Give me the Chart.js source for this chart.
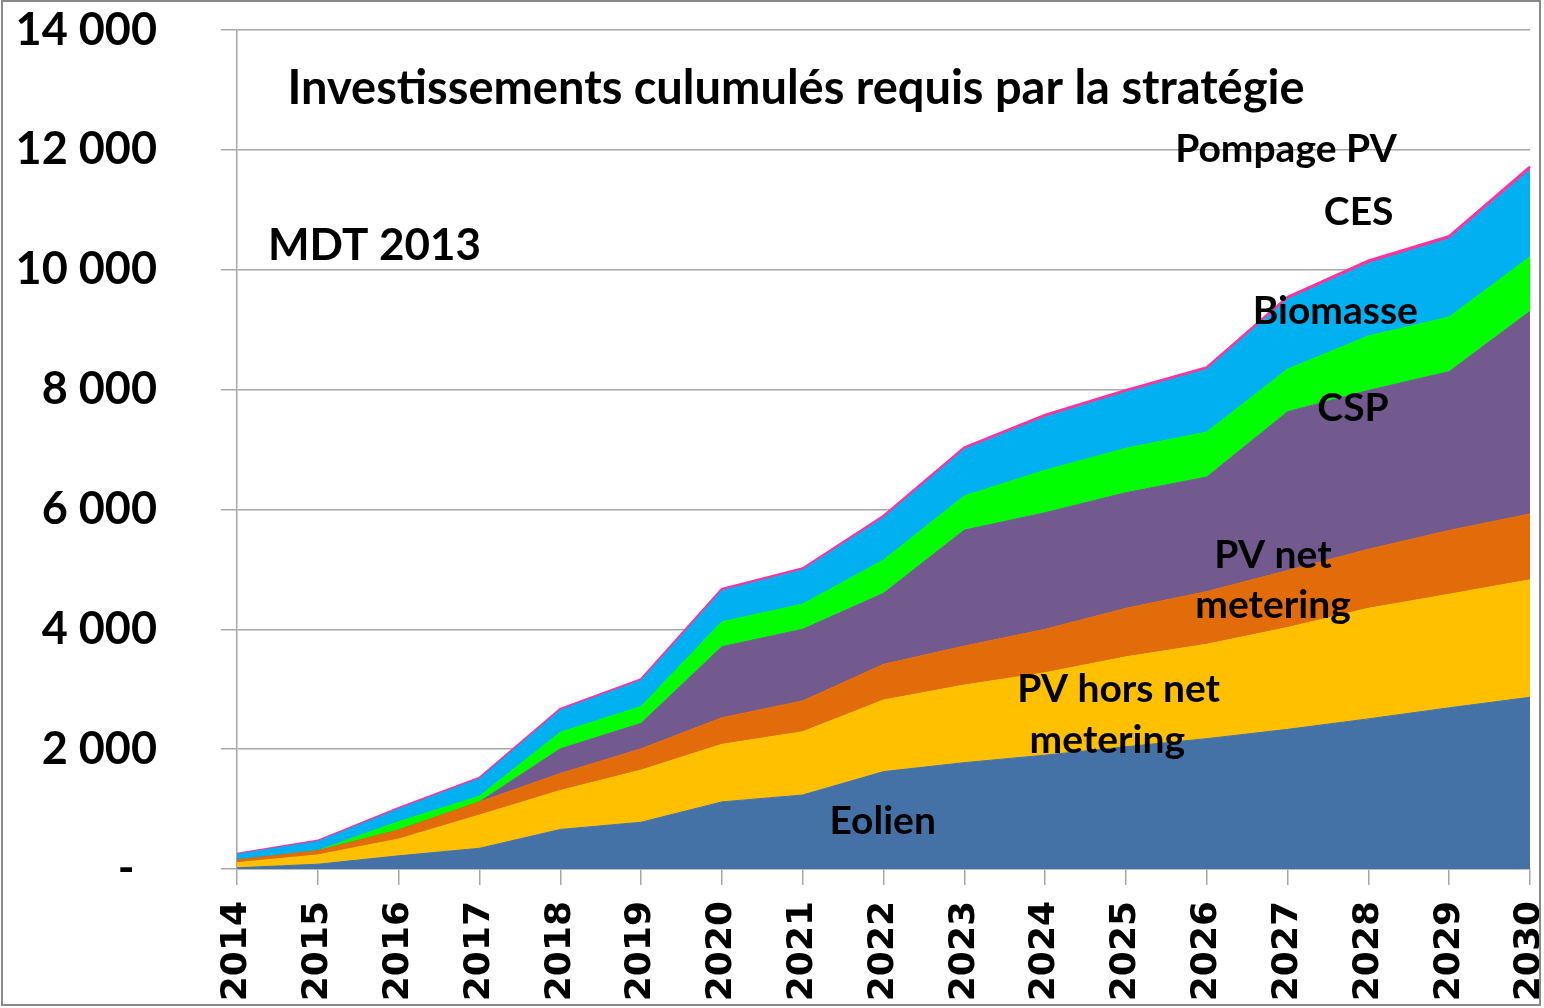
<!DOCTYPE html>
<html>
<head>
<meta charset="utf-8">
<script src="https://cdn.jsdelivr.net/npm/chart.js@4.4.1/dist/chart.umd.min.js"></script>
<style>
  html, body { margin: 0; padding: 0; background: #fff; }
  #wrap { width: 1544px; height: 1008px; position: relative; }
</style>
</head>
<body>
<div id="wrap"><canvas id="chart" width="1544" height="1008"></canvas></div>
<script>
// --- données (MDT 2013, investissements cumulés par filière) ---
const YEARS = ['2014', '2015', '2016', '2017', '2018', '2019', '2020', '2021', '2022',
               '2023', '2024', '2025', '2026', '2027', '2028', '2029', '2030'];

const EOLIEN      = [20, 80, 220, 345, 660, 780, 1120, 1235, 1625, 1775, 1900, 2040, 2175, 2330, 2505, 2690, 2865];
const PV_HORS_NM  = [85, 155, 280, 555, 650, 870, 960, 1055, 1195, 1295, 1375, 1500, 1575, 1700, 1845, 1895, 1960];
const PV_NM       = [45, 70, 150, 220, 285, 355, 445, 515, 595, 650, 725, 810, 880, 950, 985, 1065, 1100];
const CSP         = [0, 0, 0, 0, 410, 425, 1185, 1195, 1185, 1935, 1945, 1930, 1910, 2650, 2650, 2650, 3380];
const BIOMASSE    = [0, 5, 140, 95, 275, 280, 415, 420, 555, 570, 710, 740, 750, 710, 910, 910, 910];
const CES         = [95, 150, 210, 290, 370, 435, 520, 570, 705, 775, 885, 935, 1045, 1165, 1210, 1305, 1450];
const POMPAGE_PV  = [5, 10, 15, 15, 20, 20, 25, 25, 30, 30, 35, 35, 35, 40, 45, 45, 55];

const Y_TICKS = [0, 2000, 4000, 6000, 8000, 10000, 12000, 14000];

const TITLE = 'Investissements culumulés requis par la stratégie';
const SUBTITLE = 'MDT 2013';

// étiquettes des filières, placées en coordonnées (indice d'année, valeur)
const SERIES_LABELS = [
  { text: 'Pompage PV',  x: 12.98, y: 12000 },
  { text: 'CES',         x: 13.88, y: 10950 },
  { text: 'Biomasse',    x: 13.59, y: 9300 },
  { text: 'CSP',         x: 13.81, y: 7690 },
  { text: 'PV net',      x: 12.82, y: 5240 },
  { text: 'metering',    x: 12.82, y: 4400 },
  { text: 'PV hors net', x: 10.91, y: 2990 },
  { text: 'metering',    x: 10.77, y: 2150 },
  { text: 'Eolien',      x: 7.99,  y: 790 },
];

const SERIES = [
  { label: 'Eolien',             data: EOLIEN,     color: '#4472A7' },
  { label: 'PV hors net metering', data: PV_HORS_NM, color: '#FFC000' },
  { label: 'PV net metering',    data: PV_NM,      color: '#E36C0A' },
  { label: 'CSP',                data: CSP,        color: '#725A8F' },
  { label: 'Biomasse',           data: BIOMASSE,   color: '#00FF00' },
  { label: 'CES',                data: CES,        color: '#00B0F0' },
  { label: 'Pompage PV',         data: POMPAGE_PV, color: '#FF3399' },
];

const GRID = '#a8a8a8';

function fmtThousands(v) {
  if (v === 0) return '-\u2002';
  return String(v).replace(/\B(?=(\d{3})+(?!\d))/g, ' ');
}

const datasets = SERIES.map((s, i) => ({
  label: s.label,
  data: s.data,
  backgroundColor: s.color,
  borderColor: s.color,
  borderWidth: i === SERIES.length - 1 ? 2.5 : 1,
  fill: i === 0 ? 'origin' : '-1',
  pointRadius: 0,
  tension: 0,
}));

const annotations = {
  id: 'annotations',
  afterDraw(chart) {
    const { ctx, scales } = chart;
    ctx.save();
    ctx.fillStyle = '#000';
    ctx.textBaseline = 'middle';

    ctx.font = 'bold 47px Lato';
    ctx.textAlign = 'center';
    ctx.fillText(TITLE, 796, 89);

    ctx.textAlign = 'left';
    ctx.font = 'bold 44px Lato';
    ctx.fillText(SUBTITLE, 268, 246);

    ctx.textAlign = 'center';
    ctx.font = 'bold 39px Lato';
    SERIES_LABELS.forEach(l => {
      ctx.fillText(l.text, scales.x.getPixelForValue(l.x), scales.y.getPixelForValue(l.y));
    });

    // cadre extérieur
    ctx.fillStyle = '#fff';
    ctx.fillRect(1541, 0, 3, 1008);
    ctx.strokeStyle = '#8a8a8a';
    ctx.lineWidth = 2;
    ctx.strokeRect(2, 1, 1538, 1004);
    ctx.restore();
  }
};

new Chart(document.getElementById('chart'), {
  type: 'line',
  data: { labels: YEARS, datasets },
  plugins: [annotations],
  options: {
    responsive: false,
    animation: false,
    devicePixelRatio: 1,
    layout: { padding: { top: 30, right: 14, left: 0, bottom: 0 } },
    plugins: {
      legend: { display: false },
      tooltip: { enabled: false },
      filler: { propagate: false },
    },
    scales: {
      x: {
        offset: false,
        grid: { drawOnChartArea: false, drawTicks: true, tickLength: 16, color: GRID, lineWidth: 1.5 },
        border: { color: GRID, width: 1.5 },
        ticks: {
          autoSkip: false, minRotation: 90, maxRotation: 90, padding: 16,
          color: '#000', font: { family: 'DejaVu Sans', weight: 'bold', size: 36 },
        },
        afterFit(scale) {
          scale.height = 139;
          scale.paddingLeft = 0;
          scale.paddingRight = 0;
        },
      },
      y: {
        stacked: true,
        min: 0,
        max: 14000,
        afterBuildTicks(scale) {
          scale.ticks = Y_TICKS.map(v => ({ value: v }));
        },
        grid: { color: GRID, lineWidth: 1.5, tickLength: 16 },
        border: { color: GRID, width: 1.5 },
        ticks: {
          padding: 64,
          color: '#000',
          font: { family: 'Lato', weight: 'bold', size: 45 },
          callback: v => fmtThousands(v),
        },
        afterFit(scale) {
          scale.width = 237;
          scale.paddingTop = 0;
          scale.paddingBottom = 0;
        },
      },
    },
  },
});
</script>
</body>
</html>
